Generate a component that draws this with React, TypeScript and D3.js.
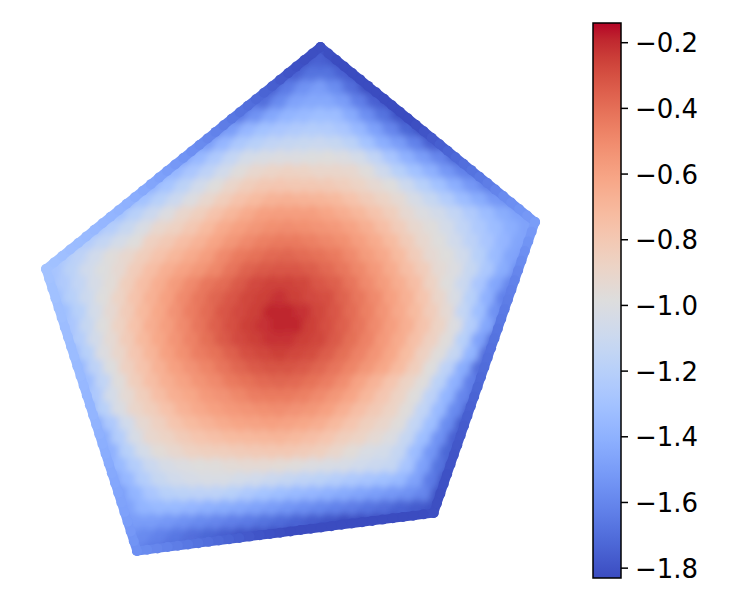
import React from "react";
import * as d3 from "d3";

const WIDTH = 750;
const HEIGHT = 600;

// Colour limits and colorbar ticks
const valueMin = -1.83;
const valueMax = -0.14;
const barTicks = [-0.2, -0.4, -0.6, -0.8, -1.0, -1.2, -1.4, -1.6, -1.8];

// matplotlib "coolwarm"
const coolwarm = [
  "rgb(59,76,192)", "rgb(68,90,204)", "rgb(77,104,215)", "rgb(87,117,225)", "rgb(98,130,234)", "rgb(108,142,241)",
  "rgb(119,154,247)", "rgb(130,165,251)", "rgb(141,176,254)", "rgb(152,185,255)", "rgb(163,194,255)", "rgb(174,201,253)",
  "rgb(184,208,249)", "rgb(194,213,244)", "rgb(204,217,238)", "rgb(213,219,230)", "rgb(221,221,221)", "rgb(229,216,209)",
  "rgb(236,211,197)", "rgb(241,204,185)", "rgb(245,196,173)", "rgb(247,187,160)", "rgb(247,177,148)", "rgb(247,166,135)",
  "rgb(244,154,123)", "rgb(241,141,111)", "rgb(236,127,99)", "rgb(229,112,88)", "rgb(222,96,77)", "rgb(213,80,66)",
  "rgb(203,62,56)", "rgb(192,40,47)", "rgb(180,4,38)",
];

// Pentagon outline in lattice units (column, row)
const outlineCols = [17.53, 30.94, 24.6, 6.06, 0.375];
const outlineRows = [0, 12.5, 33.29, 36, 15.86];

// Field values on a staggered lattice: first column of every row, then the row's values
const rowStarts = [17, 15, 15, 13, 13, 11, 10, 9, 8, 7, 6, 5, 4, 2, 2, 0, 0, 0, 0, 0, 1, 1, 2, 2, 2, 2, 3, 3, 3, 3, 4, 4, 5, 4, 5, 5, 6];
const rowValues = [
  [-1.8, -1.8],
  [-1.83, -1.8, -1.75, -1.8, -1.83],
  [-1.8, -1.75, -1.68, -1.68, -1.75, -1.83],
  [-1.75, -1.75, -1.65, -1.55, -1.5, -1.57, -1.7, -1.82, -1.83],
  [-1.7, -1.7, -1.58, -1.47, -1.44, -1.44, -1.5, -1.63, -1.75, -1.83],
  [-1.68, -1.65, -1.55, -1.45, -1.38, -1.35, -1.32, -1.33, -1.43, -1.56, -1.68, -1.8, -1.83],
  [-1.62, -1.6, -1.5, -1.37, -1.3, -1.27, -1.24, -1.22, -1.23, -1.27, -1.36, -1.48, -1.6, -1.73, -1.83, -1.83],
  [-1.58, -1.5, -1.37, -1.26, -1.2, -1.15, -1.13, -1.11, -1.1, -1.12, -1.18, -1.29, -1.41, -1.5, -1.62, -1.75, -1.8],
  [-1.52, -1.47, -1.36, -1.25, -1.14, -1.05, -1.02, -1.0, -1.0, -.99, -.98, -1.0, -1.05, -1.15, -1.28, -1.4, -1.5, -1.6, -1.72, -1.72],
  [-1.48, -1.37, -1.27, -1.17, -1.07, -.97, -.92, -.89, -.87, -.88, -.9, -.9, -.92, -.97, -1.08, -1.2, -1.3, -1.4, -1.52, -1.62, -1.68],
  [-1.46, -1.4, -1.29, -1.18, -1.07, -.98, -.9, -.84, -.8, -.79, -.8, -.8, -.81, -.84, -.88, -.93, -.98, -1.09, -1.2, -1.3, -1.41, -1.52, -1.62, -1.62],
  [-1.41, -1.3, -1.2, -1.1, -1.0, -.92, -.84, -.77, -.72, -.68, -.67, -.68, -.69, -.71, -.76, -.82, -.88, -.94, -1.03, -1.12, -1.22, -1.33, -1.42, -1.52, -1.58],
  [-1.38, -1.31, -1.2, -1.1, -1.0, -.91, -.85, -.77, -.7, -.64, -.59, -.58, -.58, -.58, -.61, -.65, -.7, -.77, -.84, -.93, -1.0, -1.06, -1.14, -1.24, -1.33, -1.42, -1.48, -1.5],
  [-1.36, -1.32, -1.22, -1.12, -1.02, -.92, -.87, -.8, -.72, -.64, -.59, -.55, -.52, -.51, -.52, -.54, -.56, -.6, -.66, -.74, -.83, -.92, -.97, -1.05, -1.15, -1.25, -1.33, -1.41, -1.47, -1.47],
  [-1.32, -1.23, -1.14, -1.05, -.98, -.86, -.81, -.74, -.68, -.61, -.55, -.5, -.46, -.44, -.44, -.46, -.49, -.52, -.58, -.64, -.72, -.82, -.92, -.98, -1.07, -1.17, -1.27, -1.37, -1.46, -1.5],
  [-1.3, -1.25, -1.17, -1.07, -.97, -.92, -.84, -.77, -.7, -.64, -.58, -.5, -.44, -.41, -.38, -.37, -.39, -.41, -.44, -.5, -.57, -.63, -.72, -.83, -.93, -.98, -1.07, -1.2, -1.34, -1.46, -1.52],
  [-1.3, -1.28, -1.18, -1.07, -.99, -.93, -.83, -.74, -.66, -.6, -.55, -.49, -.42, -.36, -.33, -.32, -.32, -.34, -.38, -.43, -.49, -.56, -.64, -.74, -.83, -.94, -1.0, -1.12, -1.26, -1.42, -1.56],
  [-1.32, -1.24, -1.14, -1.04, -.96, -.84, -.74, -.65, -.57, -.5, -.43, -.39, -.33, -.28, -.26, -.26, -.27, -.32, -.35, -.42, -.5, -.57, -.65, -.74, -.87, -.98, -1.1, -1.27, -1.45, -1.6, -1.62],
  [-1.33, -1.32, -1.2, -1.09, -.98, -.88, -.77, -.67, -.59, -.5, -.43, -.37, -.32, -.27, -.25, -.22, -.25, -.28, -.3, -.36, -.43, -.5, -.59, -.67, -.78, -.9, -1.02, -1.2, -1.4, -1.62, -1.65],
  [-1.35, -1.32, -1.2, -1.05, -.93, -.82, -.71, -.62, -.53, -.45, -.39, -.32, -.28, -.25, -.19, -.19, -.22, -.27, -.32, -.39, -.46, -.54, -.63, -.72, -.83, -.94, -1.14, -1.32, -1.55, -1.68],
  [-1.35, -1.27, -1.12, -.98, -.87, -.76, -.65, -.58, -.5, -.42, -.35, -.3, -.25, -.22, -.19, -.19, -.25, -.3, -.35, -.42, -.5, -.58, -.66, -.77, -.88, -1.0, -1.22, -1.45, -1.7],
  [-1.37, -1.22, -1.06, -.94, -.82, -.71, -.62, -.54, -.47, -.4, -.33, -.28, -.25, -.22, -.22, -.25, -.27, -.33, -.4, -.47, -.56, -.64, -.75, -.86, -.97, -1.2, -1.47, -1.72],
  [-1.37, -1.2, -1.0, -.9, -.79, -.69, -.59, -.52, -.45, -.41, -.35, -.3, -.27, -.25, -.27, -.29, -.34, -.4, -.47, -.54, -.62, -.73, -.86, -.97, -1.13, -1.38, -1.7, -1.72],
  [-1.36, -1.17, -.99, -.86, -.77, -.67, -.59, -.53, -.48, -.42, -.37, -.33, -.31, -.31, -.33, -.37, -.42, -.48, -.55, -.62, -.72, -.84, -.98, -1.17, -1.42, -1.7, -1.72],
  [-1.4, -1.33, -1.15, -.97, -.84, -.74, -.66, -.6, -.54, -.5, -.44, -.41, -.38, -.37, -.38, -.41, -.45, -.51, -.6, -.68, -.78, -.88, -.97, -1.18, -1.4, -1.63, -1.75],
  [-1.4, -1.25, -1.05, -.94, -.84, -.74, -.66, -.62, -.56, -.53, -.49, -.45, -.44, -.44, -.46, -.5, -.55, -.61, -.7, -.79, -.88, -.98, -1.17, -1.38, -1.6, -1.74],
  [-1.42, -1.2, -1.02, -.9, -.84, -.76, -.68, -.63, -.59, -.56, -.54, -.52, -.51, -.53, -.55, -.59, -.66, -.74, -.81, -.88, -.97, -1.15, -1.35, -1.58, -1.76],
  [-1.43, -1.25, -1.07, -.93, -.86, -.78, -.72, -.68, -.64, -.61, -.6, -.59, -.6, -.62, -.65, -.71, -.78, -.85, -.9, -.97, -1.14, -1.32, -1.57, -1.77, -1.8],
  [-1.45, -1.42, -1.22, -1.03, -.92, -.88, -.82, -.78, -.75, -.72, -.71, -.7, -.69, -.71, -.74, -.78, -.84, -.88, -.94, -1.0, -1.13, -1.32, -1.55, -1.75, -1.8],
  [-1.46, -1.4, -1.2, -1.05, -.96, -.92, -.87, -.85, -.84, -.82, -.81, -.8, -.8, -.82, -.85, -.9, -.96, -1.02, -1.05, -1.13, -1.33, -1.53, -1.73, -1.82],
  [-1.47, -1.35, -1.22, -1.1, -1.03, -1.0, -.98, -.97, -.95, -.94, -.94, -.95, -.97, -1.0, -1.02, -1.03, -1.07, -1.1, -1.13, -1.28, -1.48, -1.68, -1.83],
  [-1.5, -1.36, -1.22, -1.12, -1.07, -1.04, -1.02, -1.02, -1.05, -1.07, -1.1, -1.13, -1.16, -1.18, -1.21, -1.25, -1.28, -1.31, -1.35, -1.47, -1.65, -1.83],
  [-1.5, -1.38, -1.27, -1.2, -1.18, -1.17, -1.17, -1.2, -1.25, -1.29, -1.32, -1.35, -1.37, -1.4, -1.43, -1.46, -1.49, -1.52, -1.55, -1.6, -1.8, -1.83],
  [-1.52, -1.47, -1.38, -1.35, -1.35, -1.37, -1.4, -1.42, -1.44, -1.47, -1.5, -1.53, -1.56, -1.59, -1.62, -1.64, -1.67, -1.7, -1.74, -1.77, -1.8, -1.83],
  [-1.55, -1.5, -1.5, -1.52, -1.55, -1.58, -1.6, -1.63, -1.65, -1.68, -1.71, -1.74, -1.77, -1.8, -1.83, -1.83, -1.83, -1.83],
  [-1.56, -1.58, -1.62, -1.66, -1.7, -1.73, -1.76, -1.8, -1.82, -1.83, -1.83],
  [-1.6, -1.65, -1.7, -1.72],
];

// Values of the dots lying on each side of the pentagon, going round from the top vertex
const edgeTopRight = [-1.8, -1.82, -1.83, -1.83, -1.83, -1.83, -1.83, -1.83, -1.83, -1.83, -1.83, -1.83, -1.82, -1.8, -1.78, -1.76, -1.74, -1.72, -1.7, -1.68, -1.66, -1.64, -1.61, -1.58, -1.56, -1.54, -1.52, -1.5];
const edgeRight = [-1.5, -1.52, -1.54, -1.56, -1.58, -1.6, -1.62, -1.63, -1.64, -1.65, -1.66, -1.67, -1.68, -1.69, -1.7, -1.71, -1.72, -1.73, -1.74, -1.75, -1.76, -1.77, -1.78, -1.79, -1.8, -1.8, -1.81, -1.81, -1.82, -1.82, -1.82];
const edgeBottom = [-1.82, -1.83, -1.83, -1.83, -1.83, -1.83, -1.83, -1.83, -1.83, -1.83, -1.83, -1.83, -1.83, -1.83, -1.83, -1.82, -1.81, -1.8, -1.78, -1.76, -1.74, -1.72, -1.7, -1.68, -1.66, -1.64, -1.62, -1.6, -1.58, -1.56];
const edgeLeft = [-1.56, -1.54, -1.52, -1.5, -1.48, -1.47, -1.46, -1.45, -1.44, -1.43, -1.42, -1.41, -1.4, -1.39, -1.38, -1.38, -1.37, -1.36, -1.35, -1.35, -1.34, -1.34, -1.33, -1.33, -1.32, -1.32, -1.31, -1.31, -1.3, -1.3];
const edgeTopLeft = [-1.3, -1.31, -1.32, -1.33, -1.34, -1.35, -1.36, -1.37, -1.38, -1.39, -1.4, -1.42, -1.44, -1.46, -1.48, -1.5, -1.52, -1.54, -1.56, -1.58, -1.6, -1.62, -1.64, -1.66, -1.68, -1.7, -1.72, -1.74, -1.76, -1.78, -1.8, -1.81, -1.82, -1.82, -1.82];
const edges = [edgeTopRight, edgeRight, edgeBottom, edgeLeft, edgeTopLeft];

// Scales
const xScale = d3.scaleLinear().domain([0, 36]).range([40, 616]);
const yScale = d3.scaleLinear().domain([0, 36]).range([47, 551]);
const color = d3
  .scaleLinear<string>()
  .domain(coolwarm.map((_, i) => valueMin + ((valueMax - valueMin) * i) / (coolwarm.length - 1)))
  .range(coolwarm)
  .interpolate(d3.interpolateRgb)
  .clamp(true);
const barScale = d3.scaleLinear().domain([valueMin, valueMax]).range([578, 23]);

const outline = outlineCols.map((c, i) => [xScale(c), yScale(outlineRows[i])] as [number, number]);

const BAR_X = 593;
const BAR_W = 28;

function Lattice() {
  return (
    <>
      {rowValues.map((row, r) =>
        row.map((v, i) => (
          <circle
            key={`${r}-${i}`}
            cx={xScale(rowStarts[r] + i + (r % 2 ? 0.5 : 0))}
            cy={yScale(r)}
            r={10}
            fill={color(v)}
          />
        ))
      )}
    </>
  );
}

export default function App() {
  const gradientStops = coolwarm.map((c, i) => ({ offset: i / (coolwarm.length - 1), c }));
  return (
    <svg
      width={WIDTH}
      height={HEIGHT}
      viewBox={`0 0 ${WIDTH} ${HEIGHT}`}
      style={{ position: "absolute", left: 0, top: 0, background: "#fff" }}
      fontFamily="'DejaVu Sans', sans-serif"
    >
      <defs>
        <clipPath id="pentagon">
          <polygon points={outline.map((p) => p.join(",")).join(" ")} />
        </clipPath>
        <filter id="soften" x="-5%" y="-5%" width="110%" height="110%">
          <feGaussianBlur stdDeviation={3.5} />
        </filter>
        <linearGradient id="barGradient" x1="0" y1="1" x2="0" y2="0">
          {gradientStops.map((s) => (
            <stop key={s.offset} offset={s.offset} stopColor={s.c} />
          ))}
        </linearGradient>
      </defs>

      <g clipPath="url(#pentagon)">
        <g>
          <Lattice />
        </g>
        <g filter="url(#soften)">
          <Lattice />
        </g>
      </g>

      <g>
        {edges.map((vals, e) => {
          const a = outline[e];
          const b = outline[(e + 1) % outline.length];
          const px = d3.scaleLinear().domain([0, vals.length - 1]).range([a[0], b[0]]);
          const py = d3.scaleLinear().domain([0, vals.length - 1]).range([a[1], b[1]]);
          return vals.map((v, i) => (
            <g key={`${e}-${i}`}>
              {i < vals.length - 1 && (
                <line x1={px(i)} y1={py(i)} x2={px(i + 1)} y2={py(i + 1)} stroke={color(v)} strokeWidth={9} />
              )}
              <circle cx={px(i)} cy={py(i)} r={5} fill={color(v)} />
            </g>
          ));
        })}
      </g>

      <rect x={BAR_X} y={23} width={BAR_W} height={555} fill="url(#barGradient)" stroke="#000" strokeWidth={1.5} />
      {barTicks.map((t) => (
        <g key={t}>
          <line x1={BAR_X + BAR_W} x2={BAR_X + BAR_W + 7} y1={barScale(t)} y2={barScale(t)} stroke="#000" strokeWidth={1.5} />
          <text x={635} y={barScale(t) + 9.5} fontSize={26} fill="#000">
            {"\u2212" + Math.abs(t).toFixed(1)}
          </text>
        </g>
      ))}
    </svg>
  );
}
